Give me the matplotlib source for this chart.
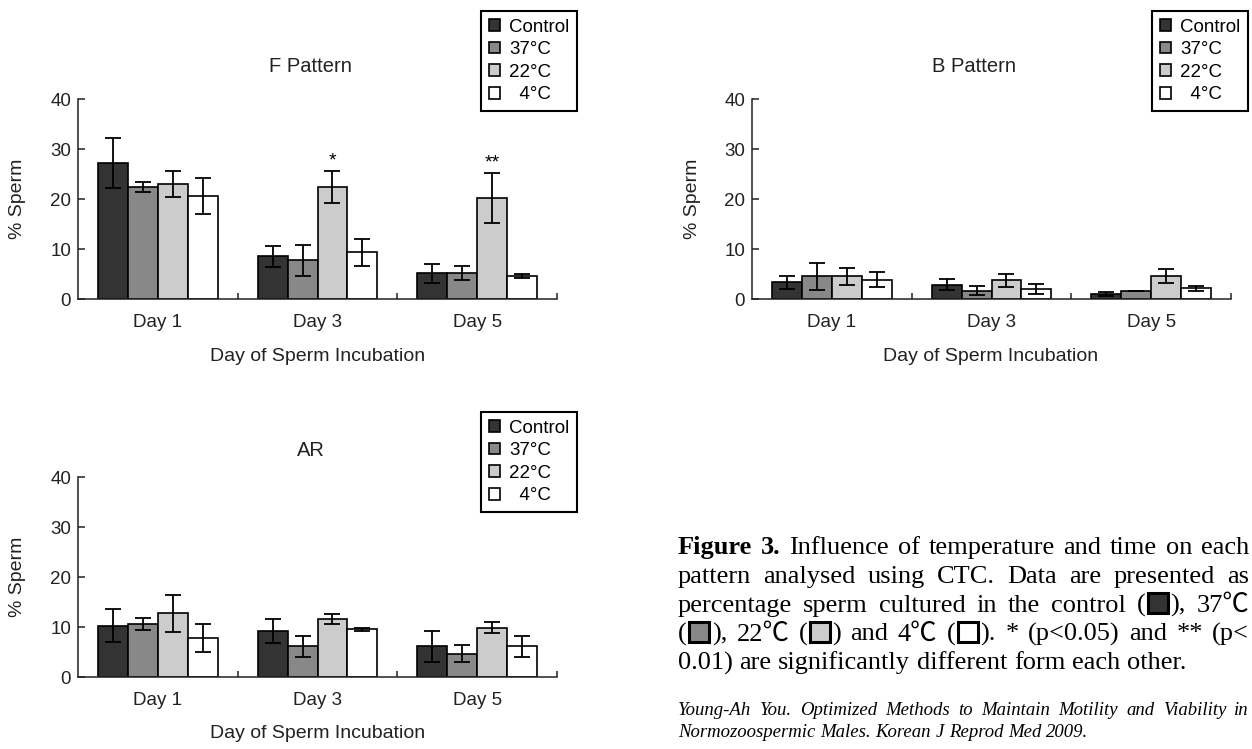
import re

import matplotlib
matplotlib.use("Agg")
import matplotlib.pyplot as plt
import numpy as np
from matplotlib.patches import Rectangle


# =========================================
# DATA
# =========================================

days = ["Day 1", "Day 3", "Day 5"]

series = ["Control", "37°C", "22°C", "  4°C"]

colors = ["#333333", "#888888", "#cccccc", "#ffffff"]

# rows = series (Control, 37, 22, 4), columns = days
f_means = [
    [27.3, 8.6, 5.2],
    [22.4, 7.8, 5.2],
    [23.1, 22.4, 20.2],
    [20.6, 9.4, 4.6],
]
f_errs = [
    [5.0, 2.1, 1.9],
    [1.0, 3.1, 1.4],
    [2.6, 3.2, 5.0],
    [3.6, 2.7, 0.4],
]

b_means = [
    [3.4, 2.9, 1.1],
    [4.6, 1.7, 1.6],
    [4.6, 3.8, 4.7],
    [3.9, 2.1, 2.2],
]
b_errs = [
    [1.3, 1.1, 0.4],
    [2.7, 0.9, 0.0],
    [1.7, 1.3, 1.4],
    [1.5, 1.0, 0.5],
]

ar_means = [
    [10.3, 9.2, 6.2],
    [10.7, 6.2, 4.7],
    [12.8, 11.7, 9.9],
    [7.9, 9.6, 6.2],
]
ar_errs = [
    [3.3, 2.4, 3.1],
    [1.2, 2.1, 1.7],
    [3.7, 1.0, 1.1],
    [2.8, 0.3, 2.1],
]

# (day index, series index, mark)
f_stars = [(1, 2, "*"), (2, 2, "**")]

caption_lines = [
    "Figure 3. Influence of temperature and time on each",
    "pattern analysed using CTC. Data are presented as",
    "percentage sperm cultured in the control ([0]), 37℃",
    "([1]), 22℃ ([2]) and 4℃ ([3]). * (p<0.05) and ** (p<",
    "0.01) are significantly different form each other.",
]

source_lines = [
    "Young-Ah You. Optimized Methods to Maintain Motility and Viability in",
    "Normozoospermic Males. Korean J Reprod Med 2009.",
]


# =========================================
# FIGURE
# =========================================

plt.rcParams["font.family"] = ["Liberation Sans", "DejaVu Sans"]

W, H = 1252, 749

fig = plt.figure(figsize=(W / 100, H / 100), dpi=100)

fig.patch.set_facecolor("white")


def px_axes(left, top, right, bottom):
    return fig.add_axes([
        left / W,
        1 - bottom / H,
        (right - left) / W,
        (bottom - top) / H
    ])


def draw_panel(ax, means, errs, stars=()):

    x = np.arange(len(days))

    width = 0.1875

    handles = []

    for i, name in enumerate(series):

        pos = x + (i - 1.5) * width

        bars = ax.bar(
            pos,
            means[i],
            width,
            color=colors[i],
            edgecolor="black",
            linewidth=1.2,
            label=name,
            zorder=2
        )

        handles.append(bars)

        ax.errorbar(
            pos,
            means[i],
            yerr=errs[i],
            fmt="none",
            ecolor="black",
            elinewidth=1.3,
            capsize=5.5,
            capthick=1.3,
            zorder=3
        )

    for d, s, mark in stars:

        pos = x[d] + (s - 1.5) * width

        ax.text(
            pos,
            means[s][d] + errs[s][d] + 0.4,
            mark,
            ha="center",
            va="bottom",
            fontsize=14
        )

    ax.set_xlim(-0.5, 2.5)
    ax.set_ylim(0, 40)

    ax.set_yticks([0, 10, 20, 30, 40])

    ax.set_xticks([0.5, 1.5, 2.5])
    ax.set_xticklabels([])

    ax.set_xticks(x, days, minor=True)

    for side in ["top", "right"]:
        ax.spines[side].set_visible(False)

    for side in ["left", "bottom"]:
        ax.spines[side].set_linewidth(1.1)
        ax.spines[side].set_color("#222222")

    ax.tick_params(axis="y", direction="in", length=5, width=1.1,
                   pad=5, labelsize=13.5, colors="#222222")
    ax.tick_params(axis="x", which="major", direction="in", length=4,
                   width=1.1, color="#222222")
    ax.tick_params(axis="x", which="minor", length=0, pad=11,
                   labelsize=13.5, labelcolor="#222222")

    return handles


def add_legend(handles, left, top):

    leg = fig.legend(
        handles,
        series,
        loc="upper left",
        bbox_to_anchor=(left / W, 1 - top / H),
        borderaxespad=0,
        fontsize=13.5,
        frameon=True,
        fancybox=False,
        framealpha=1,
        edgecolor="black",
        handlelength=0.6,
        handleheight=0.6,
        handletextpad=0.5,
        labelspacing=0.3,
        borderpad=0.4
    )

    leg.get_frame().set_linewidth(1.5)


def add_labels(title, tx, ty, ylab_x, xlab_x, xlab_y, yc):

    fig.text(tx / W, 1 - ty / H, title, ha="center", va="center",
             fontsize=14.5, color="#222222")

    fig.text(ylab_x / W, 1 - yc / H, "% Sperm", ha="center", va="center",
             rotation=90, fontsize=14, color="#222222")

    fig.text(xlab_x / W, 1 - xlab_y / H, "Day of Sperm Incubation",
             ha="center", va="center", fontsize=14, color="#222222")


# =========================================
# PANELS
# =========================================

ax_f = px_axes(78, 99, 557, 299)
h = draw_panel(ax_f, f_means, f_errs, f_stars)
add_legend(h, 481, 11)
add_labels("F Pattern", 310, 67, 18, 318, 357, 199)

ax_b = px_axes(752, 99, 1231, 299)
h = draw_panel(ax_b, b_means, b_errs)
add_legend(h, 1152, 11)
add_labels("B Pattern", 974, 67, 693, 991, 357, 199)

ax_ar = px_axes(78, 477, 557, 677)
h = draw_panel(ax_ar, ar_means, ar_errs)
add_legend(h, 481, 412)
add_labels("AR", 311, 450, 18, 318, 734, 577)


# =========================================
# CAPTION
# =========================================

serif = ["Liberation Serif", "Noto Sans CJK KR"]

renderer = fig.canvas.get_renderer()

box_px = 25


def measure(text, kw):
    t = fig.text(0, 0, text, **kw)
    w = t.get_window_extent(renderer).width
    t.remove()
    return w


def word_pieces(word):
    parts = re.split(r"\[(\d)\]", word)
    pieces = []
    for k, p in enumerate(parts):
        if k % 2 == 0:
            if p:
                pieces.append(("t", p))
        else:
            pieces.append(("b", int(p)))
    return pieces


def draw_line(text, y, size, style="normal", bold_words=0,
              justify=True, x0=678, x1=1249):

    words = text.split(" ")

    items = []

    for n, w in enumerate(words):

        kw = dict(
            fontsize=size,
            style=style,
            family=serif,
            weight="bold" if n < bold_words else "normal",
            color="black"
        )

        pcs = word_pieces(w)

        ww = 0
        for kind, val in pcs:
            ww += measure(val, kw) if kind == "t" else box_px

        items.append((pcs, kw, ww))

    total = sum(it[2] for it in items)

    if justify:
        gap = (x1 - x0 - total) / (len(words) - 1)
    else:
        base = items[0][1]
        gap = measure("a a", base) - measure("aa", base)

    x = x0

    for pcs, kw, ww in items:

        for kind, val in pcs:

            if kind == "t":
                fig.text(x / W, 1 - y / H, val, ha="left",
                         va="baseline", **kw)
                x += measure(val, kw)
            else:
                fig.add_artist(Rectangle(
                    ((x + 2.5) / W, 1 - (y + 1.5) / H),
                    20 / W,
                    20 / H,
                    transform=fig.transFigure,
                    facecolor=colors[val],
                    edgecolor="black",
                    linewidth=2.2
                ))
                x += box_px

        x += gap


for i, line in enumerate(caption_lines):
    draw_line(
        line,
        554 + i * 28.8,
        19,
        bold_words=2 if i == 0 else 0,
        justify=i < len(caption_lines) - 1
    )

for i, line in enumerate(source_lines):
    draw_line(
        line,
        715 + i * 22,
        13.5,
        style="italic",
        justify=i == 0
    )

fig.savefig("out.png", dpi=100)
